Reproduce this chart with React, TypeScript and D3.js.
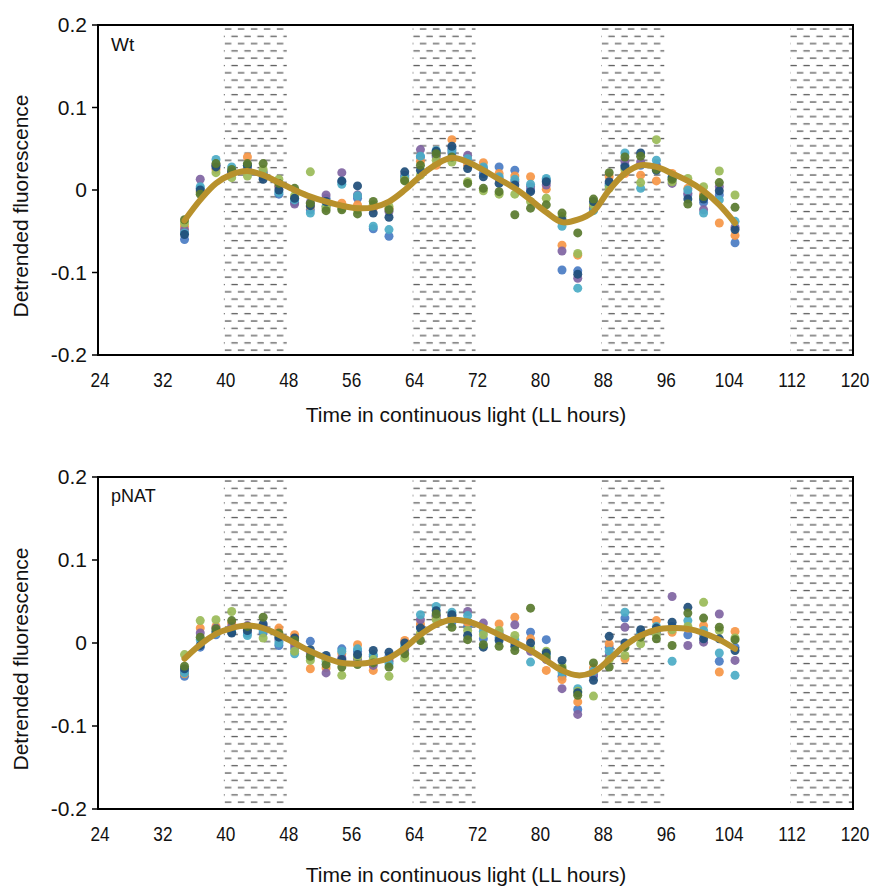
import * as d3 from "d3";

// sampling times (LL hours)
const times = [35, 37, 39, 41, 43, 45, 47, 49, 51, 53, 55, 57, 59, 61, 63, 65, 67, 69, 71, 73, 75, 77, 79, 81, 83, 85, 87, 89, 91, 93, 95, 97, 99, 101, 103, 105];
const xTicks = [24, 32, 40, 48, 56, 64, 72, 80, 88, 96, 104, 112, 120];
const yTicks = [-0.2, -0.1, 0, 0.1, 0.2];
const yTickLabels = ["-0.2", "-0.1", "0", "0.1", "0.2"];
// subjective night bands
const nights = [[40, 48], [64, 72], [88, 96], [112, 120]];

const seriesColors = ["#4a7cc4", "#f79646", "#8064a2", "#4bacc6", "#9bbb59", "#1f4e79", "#5a7a2e"];

// Wt
const wtBlue = [-0.06, 0.002, 0.03, 0.022, 0.026, 0.016, -0.005, -0.015, -0.024, -0.01, 0.01, -0.01, -0.047, -0.056, 0.014, 0.04, 0.042, 0.045, 0.034, 0.02, 0.028, 0.024, 0.0, 0.012, -0.097, -0.098, -0.024, 0.005, 0.03, 0.03, 0.03, 0.012, -0.006, -0.015, -0.006, -0.064];
const wtOrange = [-0.044, -0.002, 0.025, 0.02, 0.04, 0.02, 0.005, -0.01, -0.02, -0.02, -0.016, -0.018, -0.022, -0.022, 0.015, 0.035, 0.03, 0.061, 0.03, 0.033, 0.02, 0.017, 0.016, 0.001, -0.067, -0.079, -0.02, 0.016, 0.02, 0.018, 0.011, 0.02, 0.002, -0.005, -0.04, -0.055];
const wtPurple = [-0.048, 0.013, 0.03, 0.02, 0.028, 0.022, 0.004, -0.017, -0.015, -0.006, 0.021, -0.006, -0.02, -0.026, 0.018, 0.049, 0.04, 0.05, 0.042, 0.026, 0.014, 0.01, 0.004, 0.006, -0.074, -0.107, -0.022, 0.008, 0.035, 0.034, 0.028, 0.008, -0.004, -0.024, 0.004, -0.045];
const wtCyan = [-0.052, 0.004, 0.037, 0.028, 0.03, 0.02, -0.003, -0.012, -0.028, -0.02, 0.007, -0.007, -0.044, -0.048, 0.016, 0.041, 0.048, 0.048, 0.038, 0.028, 0.016, 0.013, 0.007, 0.014, -0.044, -0.119, -0.025, 0.006, 0.045, 0.002, 0.036, 0.016, 0.0, -0.028, -0.012, -0.038];
const wtLightGreen = [-0.04, -0.003, 0.021, 0.015, 0.017, 0.025, 0.013, -0.007, 0.022, -0.022, -0.022, -0.024, -0.018, -0.02, 0.012, 0.018, 0.036, 0.034, 0.01, -0.001, -0.005, -0.005, -0.014, -0.01, -0.032, -0.077, -0.018, 0.002, 0.025, 0.009, 0.061, 0.01, 0.014, 0.004, 0.023, -0.006];
const wtNavy = [-0.054, 0.0, 0.028, 0.022, 0.03, 0.013, 0.0, -0.01, -0.019, -0.014, 0.011, 0.005, -0.028, -0.033, 0.022, 0.024, 0.047, 0.053, 0.026, 0.016, 0.008, 0.006, -0.002, 0.01, -0.036, -0.102, -0.014, 0.01, 0.028, 0.045, 0.024, 0.015, -0.011, -0.011, -0.001, -0.048];
const wtOlive = [-0.036, -0.005, 0.032, 0.025, 0.032, 0.032, 0.008, 0.002, -0.016, -0.025, -0.024, -0.029, -0.014, -0.024, 0.011, 0.03, 0.044, 0.04, 0.008, 0.002, -0.002, -0.03, -0.022, -0.018, -0.028, -0.052, -0.011, 0.021, 0.04, 0.041, 0.025, 0.013, -0.017, -0.008, 0.009, -0.021];
const wtFit = [-0.037, -0.012, 0.008, 0.019, 0.023, 0.018, 0.009, 0.0, -0.008, -0.014, -0.019, -0.022, -0.021, -0.014, 0.0, 0.017, 0.031, 0.039, 0.034, 0.024, 0.013, 0.002, -0.012, -0.027, -0.039, -0.036, -0.026, 0.0, 0.02, 0.03, 0.028, 0.02, 0.011, -0.001, -0.018, -0.04];

// pNAT
const pnBlue = [-0.04, -0.005, 0.01, 0.013, 0.012, 0.012, -0.003, -0.006, 0.002, -0.018, -0.007, -0.01, -0.016, -0.016, -0.006, 0.02, 0.033, 0.025, 0.02, 0.005, 0.006, 0.0, 0.013, 0.004, -0.04, -0.08, -0.04, -0.005, 0.03, 0.01, 0.012, 0.02, 0.01, 0.01, -0.022, -0.005];
const pnOrange = [-0.037, 0.018, 0.02, 0.024, 0.016, 0.018, 0.018, 0.01, -0.031, -0.03, -0.013, -0.002, -0.033, -0.02, 0.003, 0.023, 0.03, 0.031, 0.025, 0.018, 0.023, 0.031, 0.005, -0.033, -0.044, -0.071, -0.03, -0.001, -0.019, 0.008, 0.027, 0.013, 0.018, 0.021, -0.035, 0.014];
const pnPurple = [-0.034, 0.012, 0.018, 0.02, 0.021, 0.02, 0.004, -0.002, -0.012, -0.036, -0.018, -0.02, -0.027, -0.022, -0.008, 0.028, 0.032, 0.033, 0.038, 0.024, 0.012, 0.022, -0.01, -0.02, -0.055, -0.086, -0.038, -0.015, 0.019, 0.01, 0.015, 0.056, -0.003, 0.001, 0.035, -0.021];
const pnCyan = [-0.036, 0.004, 0.012, 0.016, 0.009, 0.015, 0.0, -0.013, -0.018, -0.022, -0.01, -0.007, -0.014, -0.025, -0.004, 0.034, 0.044, 0.037, 0.033, 0.014, 0.01, 0.004, -0.023, -0.014, -0.035, -0.055, -0.034, -0.01, 0.037, 0.012, 0.02, -0.022, 0.027, 0.015, -0.012, -0.039];
const pnLightGreen = [-0.014, 0.027, 0.028, 0.038, 0.018, 0.006, 0.01, -0.01, -0.021, -0.02, -0.039, -0.017, -0.02, -0.04, -0.018, 0.012, 0.028, 0.029, 0.015, 0.01, 0.015, 0.009, -0.006, -0.01, -0.028, -0.058, -0.064, -0.02, -0.015, -0.001, 0.01, 0.016, 0.02, 0.049, 0.015, 0.006];
const pnNavy = [-0.031, -0.003, 0.014, 0.012, 0.015, 0.023, 0.007, 0.006, -0.008, -0.015, -0.02, -0.014, -0.009, -0.011, 0.0, 0.018, 0.039, 0.034, 0.009, -0.005, 0.003, -0.004, 0.0, -0.012, -0.021, -0.06, -0.045, 0.008, 0.0, 0.016, 0.018, 0.025, 0.043, 0.005, 0.005, -0.009];
const pnOlive = [-0.028, 0.007, 0.017, 0.027, 0.02, 0.031, 0.012, 0.003, -0.016, -0.026, -0.029, -0.026, -0.024, -0.029, -0.013, 0.003, 0.035, 0.019, 0.004, -0.002, -0.004, -0.009, 0.042, -0.017, -0.031, -0.063, -0.024, -0.029, -0.005, 0.007, 0.005, -0.003, 0.036, 0.03, 0.019, 0.004];
const pnFit = [-0.019, -0.002, 0.011, 0.018, 0.021, 0.018, 0.01, 0.0, -0.01, -0.018, -0.024, -0.025, -0.023, -0.018, -0.006, 0.01, 0.022, 0.028, 0.026, 0.019, 0.01, 0.001, -0.009, -0.021, -0.033, -0.039, -0.035, -0.02, -0.003, 0.009, 0.016, 0.018, 0.017, 0.012, 0.004, -0.007];

const wtSeries = [wtBlue, wtOrange, wtPurple, wtCyan, wtLightGreen, wtNavy, wtOlive];
const pnSeries = [pnBlue, pnOrange, pnPurple, pnCyan, pnLightGreen, pnNavy, pnOlive];

const FONT = "'Liberation Sans', Arial, sans-serif";

function Panel({ id, top, bottom, label, labelSize, titleGap, series, fit }) {
  const x = d3.scaleLinear().domain([24, 120]).range([98, 853]);
  const y = d3.scaleLinear().domain([-0.2, 0.2]).range([bottom, top]);

  const line = d3
    .line()
    .x((d, i) => x(times[i]))
    .y((d) => y(d))
    .curve(d3.curveCatmullRom.alpha(0.5));

  return (
    <g>
      <defs>
        <pattern id={id} patternUnits="userSpaceOnUse" width={13} height={14.6} x={x(40)} y={top + 1}>
          <line x1={1} y1={3} x2={7.5} y2={3} stroke="#5a5a5a" strokeWidth={1.3} />
          <line x1={7.5} y1={10.3} x2={13} y2={10.3} stroke="#5a5a5a" strokeWidth={1.3} />
          <line x1={0} y1={10.3} x2={1} y2={10.3} stroke="#5a5a5a" strokeWidth={1.3} />
        </pattern>
      </defs>

      {nights.map(([a, b]) => (
        <rect key={a} x={x(a)} y={top} width={x(b) - x(a)} height={bottom - top} fill={`url(#${id})`} />
      ))}

      {series.map((vals, s) => (
        <g key={s} fill={seriesColors[s]} opacity={0.92}>
          {vals.map((v, i) => (
            <circle key={i} cx={x(times[i])} cy={y(v)} r={4.5} />
          ))}
        </g>
      ))}

      <path d={line(fit)} fill="none" stroke="#b8912c" strokeWidth={6} strokeLinecap="round" strokeLinejoin="round" />

      {/* frame */}
      <rect x={x(24)} y={top} width={x(120) - x(24)} height={bottom - top} fill="none" stroke="#000" strokeWidth={2} />

      {yTicks.map((t, i) => (
        <g key={t}>
          <line x1={x(24) - 6} x2={x(24)} y1={y(t)} y2={y(t)} stroke="#000" strokeWidth={1.5} />
          <text x={x(24) - 11} y={y(t)} dy="0.35em" textAnchor="end" fontSize={21} fontFamily={FONT} fill="#111">
            {yTickLabels[i]}
          </text>
        </g>
      ))}

      {xTicks.map((t) => (
        <text
          key={t}
          transform={`translate(${x(t) + 2},${bottom + 25}) scale(0.82,1)`}
          dy="0.35em"
          textAnchor="middle"
          fontSize={21}
          fontFamily={FONT}
          fill="#111"
        >
          {t}
        </text>
      ))}

      <text x={466} y={bottom + titleGap} dy="0.35em" textAnchor="middle" fontSize={21} fontFamily={FONT} fill="#111">
        Time in continuous light (LL hours)
      </text>

      <text
        transform={`translate(21,${(top + bottom) / 2 + 16}) rotate(-90)`}
        dy="0.35em"
        textAnchor="middle"
        fontSize={21}
        fontFamily={FONT}
        fill="#111"
      >
        Detrended fluorescence
      </text>

      <text x={111} y={top + 19} dy="0.35em" fontSize={labelSize} fontFamily={FONT} fill="#111">
        {label}
      </text>
    </g>
  );
}

export default function App() {
  return (
    <svg width={878} height={887} style={{ position: "absolute", left: 0, top: 0, background: "#fff" }}>
      <rect width={878} height={887} fill="#fff" />
      <Panel id="hatchWt" top={25} bottom={355} label="Wt" labelSize={19} titleGap={60} series={wtSeries} fit={wtFit} />
      <Panel id="hatchPn" top={477} bottom={809} label="pNAT" labelSize={18} titleGap={66} series={pnSeries} fit={pnFit} />
    </svg>
  );
}
